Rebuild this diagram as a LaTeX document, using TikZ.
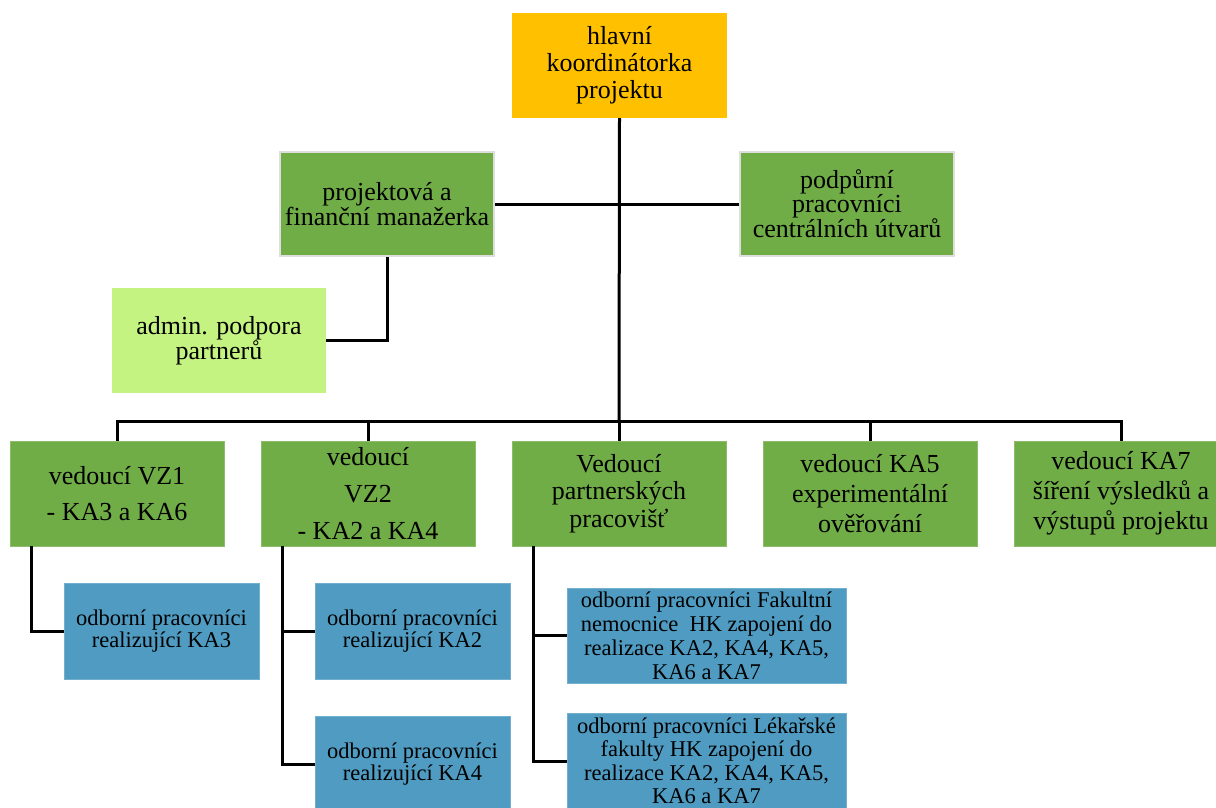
\documentclass[tikz,border=0pt]{standalone}
\usepackage{fontspec}
\setmainfont{Liberation Serif}
\definecolor{coordorange}{RGB}{255,192,0}
\definecolor{leadgreen}{RGB}{112,173,71}
\definecolor{palegreen}{RGB}{197,243,130}
\definecolor{staffblue}{RGB}{79,155,193}
\definecolor{rimgray}{RGB}{222,222,222}
\tikzset{
  unit/.style={rectangle, inner sep=0pt, align=center},
  chief/.style={unit, fill=coordorange, minimum width=215pt, minimum height=105pt,
    font=\fontsize{26}{27}\selectfont},
  staff/.style={unit, fill=leadgreen, draw=rimgray, line width=2.5pt,
    minimum width=214pt, minimum height=104pt},
  leader/.style={unit, fill=leadgreen, draw=leadgreen!80!white, line width=0.8pt,
    minimum width=214pt, minimum height=105pt},
  admin/.style={unit, fill=palegreen, minimum width=214pt, minimum height=105pt,
    font=\fontsize{26}{25}\selectfont},
  worker/.style={unit, fill=staffblue, draw=staffblue!80!white, line width=0.8pt,
    minimum height=96pt},
  link/.style={line width=3pt, black}
}
\begin{document}
\begin{tikzpicture}[x=1pt, y=-1pt]
  \clip (0,0) rectangle (1216,808);
  \useasboundingbox (0,0) rectangle (1216,808);

  % top of the hierarchy
  \node[chief] (head) at (619.5,65.5) {hlavní\\koordinátorka\\projektu};

  % management level
  \node[staff, font=\fontsize{26}{25}\selectfont] (pm) at (387,204)
    {projektová a\\finanční manažerka};
  \node[staff, font=\fontsize{26}{24}\selectfont] (pp) at (847,204)
    {podpůrní\\pracovníci\\centrálních útvarů};
  \node[admin] (adm) at (219,340.5) {admin. podpora\\partnerů};

  % leaders row
  \node[leader, font=\fontsize{26}{36}\selectfont] (vz1) at (117,493.5)
    {vedoucí VZ1\\- KA3 a KA6};
  \node[leader, font=\fontsize{26}{37}\selectfont] (vz2) at (368,493.5)
    {vedoucí\\VZ2\\- KA2 a KA4};
  \node[leader, font=\fontsize{26}{27.5}\selectfont] (vp) at (619,493.5)
    {Vedoucí\\partnerských\\pracovišť};
  \node[leader, font=\fontsize{26}{30}\selectfont] (ka5) at (870,493.5)
    {vedoucí KA5\\experimentální\\ověřování};
  \node[leader, font=\fontsize{26}{30}\selectfont] (ka7) at (1121,493.5)
    {vedoucí KA7\\šíření výsledků a\\výstupů projektu};

  % expert staff
  \node[worker, minimum width=195pt, font=\fontsize{22.5}{22}\selectfont] (w3) at (161.5,631)
    {odborní pracovníci\\realizující KA3};
  \node[worker, minimum width=195pt, font=\fontsize{22.5}{22}\selectfont] (w2) at (412.5,631)
    {odborní pracovníci\\realizující KA2};
  \node[worker, minimum width=195pt, font=\fontsize{22.5}{22}\selectfont] (w4) at (412.5,764)
    {odborní pracovníci\\realizující KA4};
  \node[worker, minimum width=279pt, minimum height=95pt, font=\fontsize{22.5}{24}\selectfont] (fn) at (706.5,635.5)
    {odborní pracovníci Fakultní\\nemocnice\ \ HK zapojení do\\realizace KA2, KA4, KA5,\\KA6 a KA7};
  \node[worker, minimum width=279pt, minimum height=95pt, font=\fontsize{22.5}{23.5}\selectfont] (lf) at (706.5,761)
    {odborní pracovníci Lékařské\\fakulty HK zapojení do\\realizace KA2, KA4, KA5,\\KA6 a KA7};

  % connectors
  \coordinate (bus) at (619,421);
  \draw[link] (head.south) -- (bus);
  \draw[link] (pm.east) -- (pp.west);
  \draw[link] (pm.south) |- (adm.east);
  \draw[link] (vz1.north) -- (vz1.north |- bus) -- (ka7.north |- bus) -- (ka7.north);
  \foreach \n in {vz2, vp, ka5}
    \draw[link] (\n.north) -- (\n.north |- bus);

  \coordinate (t1) at (31,546);
  \coordinate (t2) at (282,546);
  \coordinate (t3) at (533,546);
  \draw[link] (t1) |- (w3.west);
  \draw[link] (t2) |- (w4.west);
  \draw[link] (t2 |- w2.west) -- (w2.west);
  \draw[link] (t3) |- (lf.west);
  \draw[link] (t3 |- fn.west) -- (fn.west);
\end{tikzpicture}
\end{document}
